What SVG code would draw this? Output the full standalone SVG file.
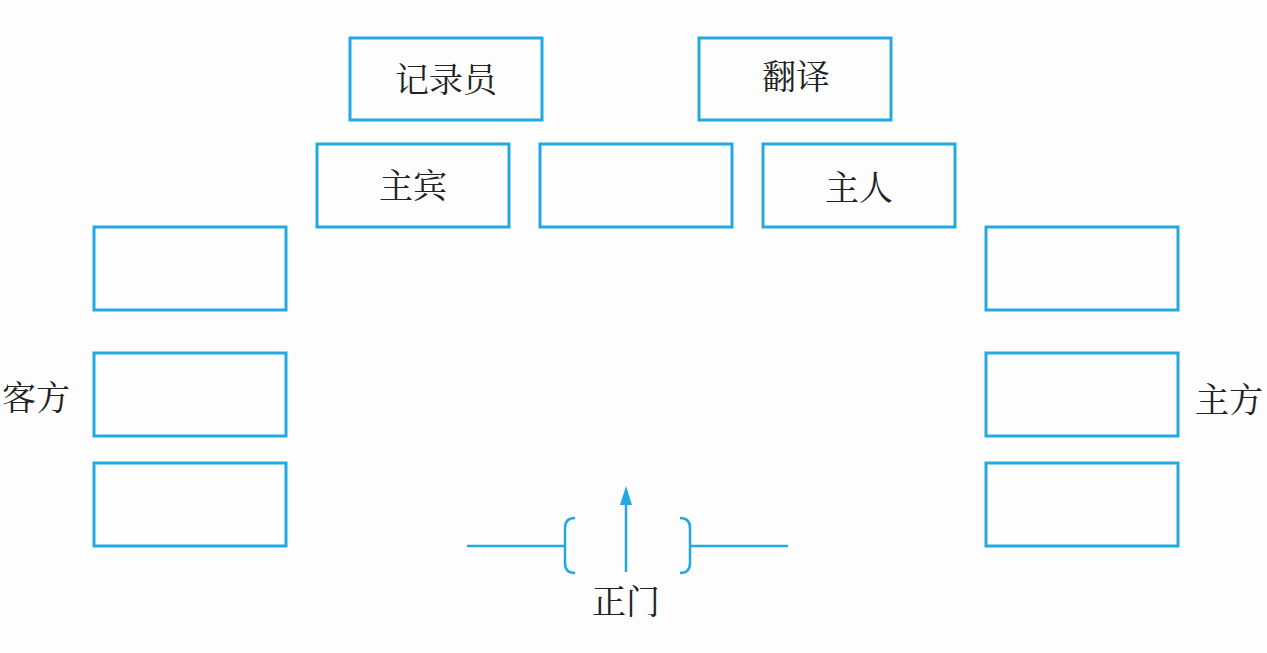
<svg xmlns="http://www.w3.org/2000/svg" width="1267" height="653" viewBox="0 0 1267 653">
<style>
.box{fill:none;stroke:#22a9e1;stroke-width:3}
.ln{fill:none;stroke:#22a9e1;stroke-width:2.5}
text{font-family:"Noto Serif CJK SC","Noto Sans CJK SC",sans-serif;font-size:34px;fill:#222;text-anchor:middle;dominant-baseline:central}
</style>
<rect width="1267" height="653" fill="#fdfdfd"/>
<g id="recorder"><rect class="box" x="350" y="38" width="192" height="82"/><text x="446" y="77">记录员</text></g>
<g id="translator"><rect class="box" x="699" y="38" width="192" height="82"/><text x="796" y="74">翻译</text></g>
<g id="guest"><rect class="box" x="317" y="144" width="192" height="83"/><text x="413" y="183">主宾</text></g>
<g id="center"><rect class="box" x="540" y="144" width="192" height="83"/></g>
<g id="host"><rect class="box" x="763" y="144" width="192" height="83"/><text x="859" y="185">主人</text></g>
<g id="left1"><rect class="box" x="94" y="227" width="192" height="83"/></g>
<g id="left2"><rect class="box" x="94" y="353" width="192" height="83"/></g>
<g id="left3"><rect class="box" x="94" y="463" width="192" height="83"/></g>
<g id="right1"><rect class="box" x="986" y="227" width="192" height="83"/></g>
<g id="right2"><rect class="box" x="986" y="353" width="192" height="83"/></g>
<g id="right3"><rect class="box" x="986" y="463" width="192" height="83"/></g>
<g id="labels">
<text x="36" y="395">客方</text>
<text x="1229" y="397">主方</text>
<text x="626" y="599">正门</text>
</g>
<g id="connectors">
<line class="ln" x1="467" y1="546" x2="564" y2="546"/>
<path class="ln" d="M575,518 Q565,518 565,528 L565,563 Q565,573 575,573"/>
<path class="ln" d="M680,518 Q690,518 690,528 L690,563 Q690,573 680,573"/>
<line class="ln" x1="690" y1="546" x2="788" y2="546"/>
<line class="ln" x1="626" y1="572" x2="626" y2="500"/>
<path d="M626,486 L632,505 L620,505 Z" fill="#22a9e1"/>
</g>
</svg>
